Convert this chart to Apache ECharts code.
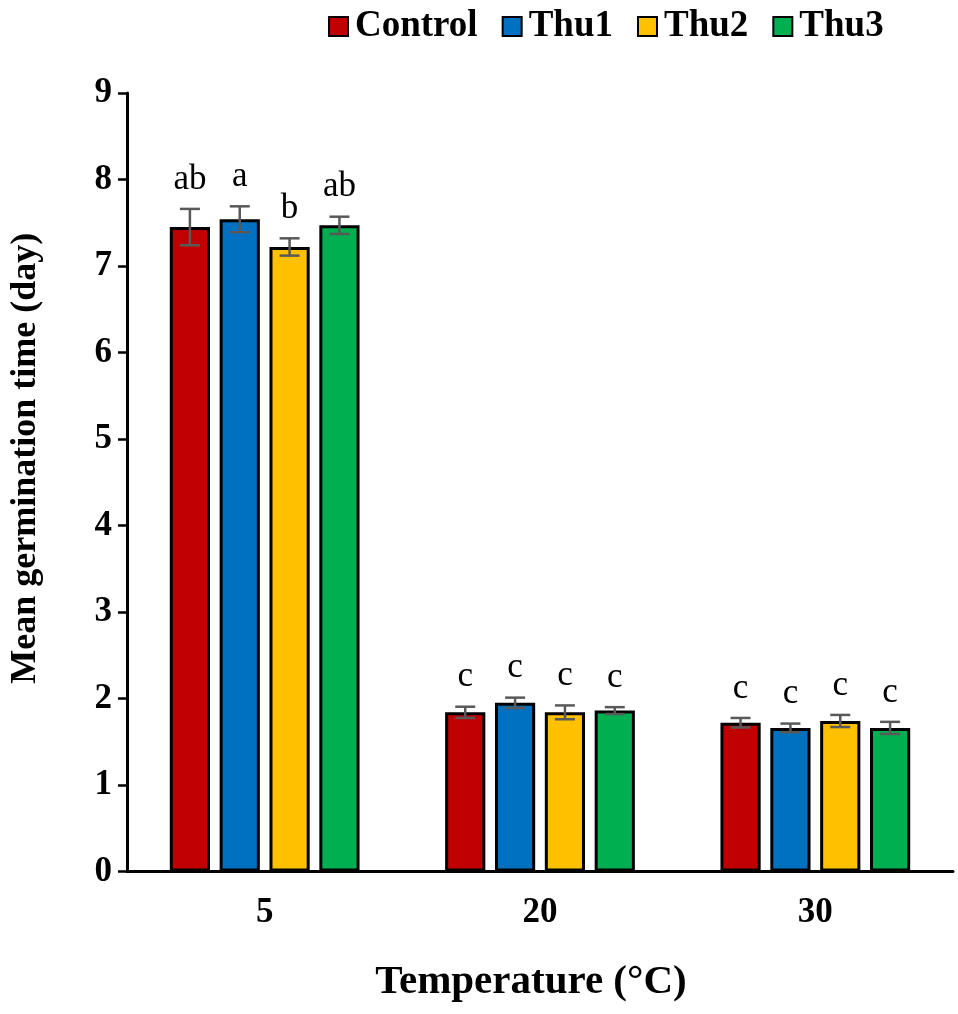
<!DOCTYPE html>
<html>
<head>
<meta charset="utf-8">
<script src="https://cdn.jsdelivr.net/npm/echarts@6/dist/echarts.min.js"></script>
<style>
html,body{margin:0;padding:0;background:#fff;}
#chart{width:958px;height:1014px;}
</style>
</head>
<body>
<div id="chart"></div>
<script>
const categories = ['5', '20', '30'];
const seriesNames = ['Control', 'Thu1', 'Thu2', 'Thu3'];
const controlValues = [7.45, 1.84, 1.72];
const thu1Values = [7.54, 1.95, 1.66];
const thu2Values = [7.22, 1.84, 1.74];
const thu3Values = [7.47, 1.86, 1.66];
const controlErr = [0.21, 0.065, 0.055];
const thu1Err = [0.15, 0.06, 0.05];
const thu2Err = [0.10, 0.08, 0.07];
const thu3Err = [0.10, 0.04, 0.07];
const controlLetters = ['ab', 'c', 'c'];
const thu1Letters = ['a', 'c', 'c'];
const thu2Letters = ['b', 'c', 'c'];
const thu3Letters = ['ab', 'c', 'c'];
const yTicks = [0, 1, 2, 3, 4, 5, 6, 7, 8, 9];

const values = [controlValues, thu1Values, thu2Values, thu3Values];
const errs = [controlErr, thu1Err, thu2Err, thu3Err];
const letters = [controlLetters, thu1Letters, thu2Letters, thu3Letters];
const colors = ['#C00000', '#0070C0', '#FFC000', '#00B050'];

const FONT = "'Liberation Serif', 'Times New Roman', serif";
const BAR_FRAC = 0.146;
const GAP_FRAC = 0.24;

const series = [];
seriesNames.forEach((name, i) => {
  series.push({
    name: name,
    type: 'bar',
    data: values[i],
    barWidth: (BAR_FRAC * 100) + '%',
    barGap: (GAP_FRAC * 100) + '%',
    itemStyle: { color: colors[i], borderColor: '#000', borderWidth: 3 },
    z: 2
  });
});
seriesNames.forEach((name, i) => {
  series.push({
    name: name + '_err',
    type: 'custom',
    data: values[i].map((v, k) => [k, v, errs[i][k]]),
    z: 5,
    renderItem: function (params, api) {
      const k = api.value(0);
      const v = api.value(1);
      const e = api.value(2);
      const band = api.size([1, 0])[0];
      const off = (i - 1.5) * band * BAR_FRAC * (1 + GAP_FRAC);
      const top = api.coord([k, v + e]);
      const bot = api.coord([k, v - e]);
      const x = top[0] + off;
      const cap = 10;
      const style = { stroke: '#595959', lineWidth: 2.5 };
      return {
        type: 'group',
        children: [
          { type: 'line', shape: { x1: x, y1: top[1], x2: x, y2: bot[1] }, style: style },
          { type: 'line', shape: { x1: x - cap, y1: top[1], x2: x + cap, y2: top[1] }, style: style },
          { type: 'line', shape: { x1: x - cap, y1: bot[1], x2: x + cap, y2: bot[1] }, style: style },
          { type: 'text', style: { text: letters[i][k], x: x, y: top[1] - 12, textAlign: 'center', textVerticalAlign: 'bottom', font: '35px ' + FONT, fill: '#000' } }
        ]
      };
    }
  });
});

const chart = echarts.init(document.getElementById('chart'));
chart.setOption({
  animation: false,
  backgroundColor: '#fff',
  legend: {
    data: seriesNames,
    top: 3,
    left: 323,
    itemWidth: 19,
    itemHeight: 19,
    itemGap: 24,
    icon: 'rect',
    textStyle: { fontFamily: FONT, fontWeight: 'bold', fontSize: 37, color: '#000', padding: [0, 0, 0, 2] }
  },
  grid: { left: 126, right: 5, top: 93, bottom: 142.5, containLabel: false },
  xAxis: {
    type: 'category',
    data: categories,
    axisLine: { lineStyle: { color: '#000', width: 3 } },
    axisTick: { alignWithLabel: true, length: 8, lineStyle: { color: '#000', width: 2.5 } },
    axisLabel: { margin: 24, fontFamily: FONT, fontWeight: 'bold', fontSize: 35, color: '#000' },
    name: 'Temperature (°C)',
    nameLocation: 'middle',
    nameGap: 90,
    nameTextStyle: { fontFamily: FONT, fontWeight: 'bold', fontSize: 41, color: '#000', padding: [0, 18, 0, 0] }
  },
  yAxis: {
    type: 'value',
    min: yTicks[0],
    max: yTicks[yTicks.length - 1],
    interval: 1,
    axisLine: { show: true, lineStyle: { color: '#000', width: 3 } },
    axisTick: { show: true, length: 9, lineStyle: { color: '#000', width: 2.5 } },
    splitLine: { show: false },
    axisLabel: { margin: 15, fontFamily: FONT, fontWeight: 'bold', fontSize: 35, color: '#000' },
    name: 'Mean germination time (day)',
    nameLocation: 'middle',
    nameGap: 83,
    nameTextStyle: { fontFamily: FONT, fontWeight: 'bold', fontSize: 36, color: '#000', padding: [0, 0, 0, 48] }
  },
  series: series
});
</script>
</body>
</html>
